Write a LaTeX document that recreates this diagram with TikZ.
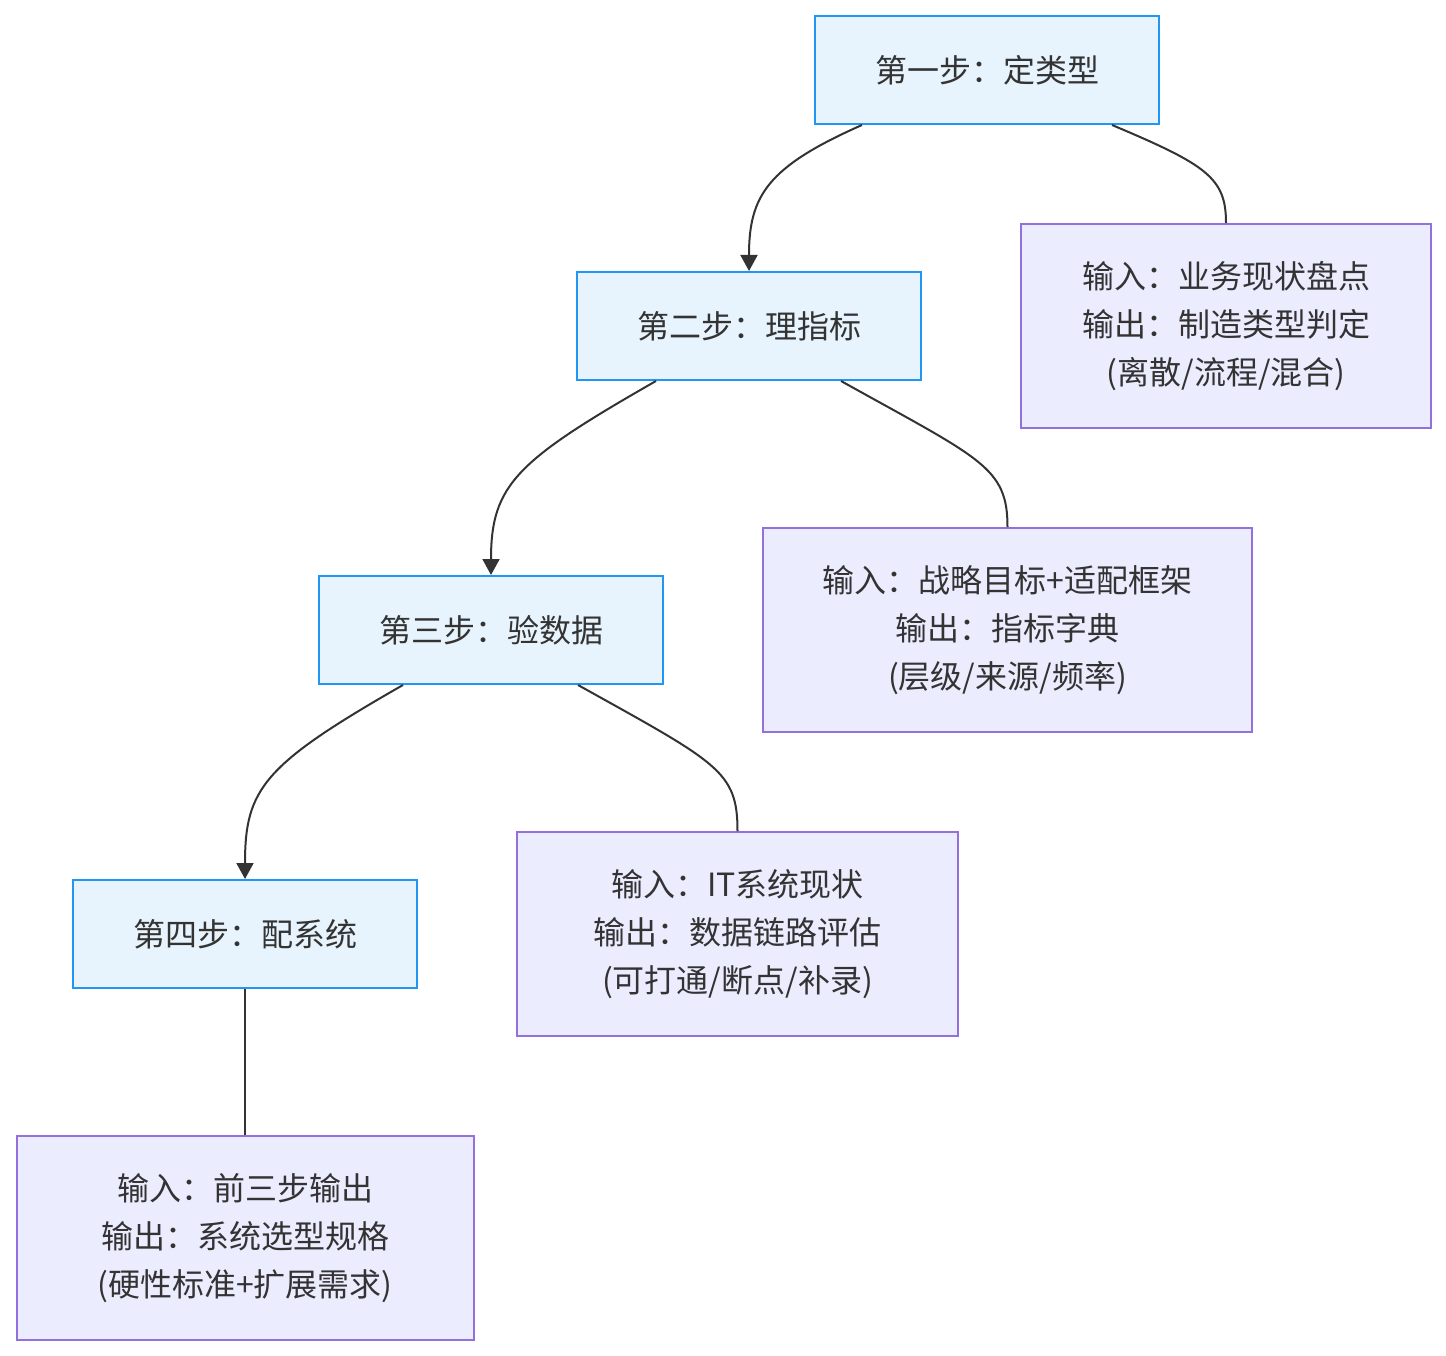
\documentclass[tikz,border=0pt]{standalone}
\usepackage{fontspec}
\newfontfamily\cjk{Noto Sans CJK SC}
\usetikzlibrary{arrows.meta}
\definecolor{stepfill}{HTML}{E8F4FD}
\definecolor{stepdraw}{HTML}{2196F3}
\definecolor{iofill}{HTML}{ECECFF}
\definecolor{iodraw}{HTML}{9370DB}
\definecolor{ink}{HTML}{333333}
\tikzset{
  stepbox/.style={draw=stepdraw, fill=stepfill, line width=2pt, minimum width=344pt, minimum height=108pt, inner sep=0pt, align=center, text=ink, font={\cjk\fontsize{32}{48}\selectfont}},
  iobox/.style={draw=iodraw, fill=iofill, line width=2pt, minimum height=204pt, inner sep=0pt, align=center, text=ink, font={\cjk\fontsize{32}{48}\selectfont}},
  link/.style={draw=ink, line width=2pt},
  arrowlink/.style={link, -{Triangle[length=16pt,width=17pt]}}
}
\begin{document}
\begin{tikzpicture}[x=1pt,y=-1pt]
\useasboundingbox (0,0) rectangle (1446,1356);
\node[stepbox] (s1) at (987,70) {第一步：定类型};
\node[stepbox] (s2) at (749,326) {第二步：理指标};
\node[stepbox] (s3) at (491,630) {第三步：验数据};
\node[stepbox] (s4) at (245,934) {第四步：配系统};
\node[iobox, minimum width=410pt] (o1) at (1226,326) {输入：业务现状盘点\\输出：制造类型判定\\(离散/流程/混合)};
\node[iobox, minimum width=489pt] (o2) at (1007.5,630) {输入：战略目标+适配框架\\输出：指标字典\\(层级/来源/频率)};
\node[iobox, minimum width=441pt] (o3) at (737.5,934) {输入：IT系统现状\\输出：数据链路评估\\(可打通/断点/补录)};
\node[iobox, minimum width=457pt] (o4) at (245,1238) {输入：前三步输出\\输出：系统选型规格\\(硬性标准+扩展需求)};
\draw[arrowlink] ([xshift=-125pt]s1.south) .. controls +(-95,42) and +(0,-75) .. (s2.north);
\draw[link] ([xshift=125pt]s1.south) .. controls +(95,40) and +(0,-45) .. (o1.north);
\draw[arrowlink] ([xshift=-93pt]s2.south) .. controls +(-140,80) and +(0,-90) .. (s3.north);
\draw[link] ([xshift=92pt]s2.south) .. controls +(140,78) and +(0,-60) .. (o2.north);
\draw[arrowlink] ([xshift=-88pt]s3.south) .. controls +(-140,80) and +(0,-90) .. (s4.north);
\draw[link] ([xshift=87pt]s3.south) .. controls +(140,78) and +(0,-60) .. (o3.north);
\draw[link] (s4.south) -- (o4.north);
\end{tikzpicture}
\end{document}
